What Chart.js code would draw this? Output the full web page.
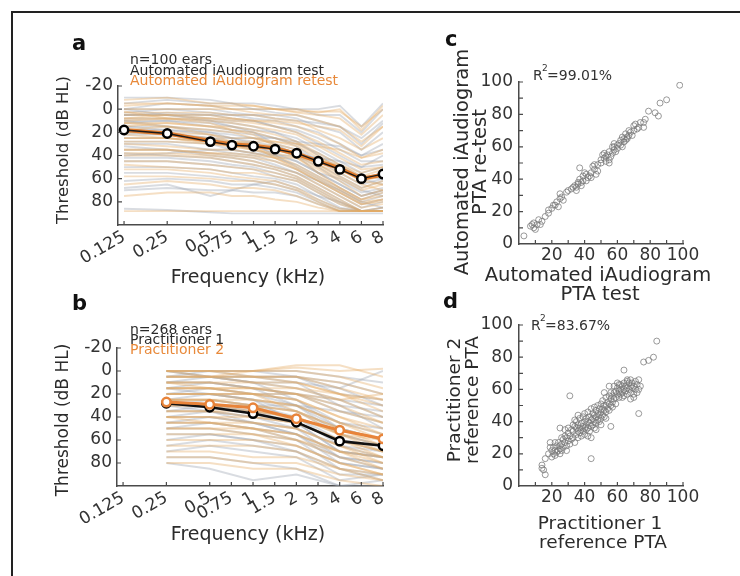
<!DOCTYPE html>
<html>
<head>
<meta charset="utf-8">
<script src="https://cdn.jsdelivr.net/npm/chart.js@4.4.0/dist/chart.umd.min.js"></script>
<style>
  body { margin: 0; background: #fff; width: 740px; height: 576px; overflow: hidden; position: relative; }
  canvas { position: absolute; left: 0; top: 0; }
  #frame { position: absolute; left: 11px; top: 11px; width: 800px; height: 640px;
           border-left: 2px solid #222; border-top: 2px solid #222; }
</style>
</head>
<body>
<div id="frame"></div>
<canvas id="chartA" width="740" height="576"></canvas>
<canvas id="chartB" width="740" height="576"></canvas>
<canvas id="chartC" width="740" height="576"></canvas>
<canvas id="chartD" width="740" height="576"></canvas>
<script>
// ---- data ----
var freqLabels = ['0.125', '0.25', '0.5', '0.75', '1', '1.5', '2', '3', '4', '6', '8'];
var freqPos = [0, 2, 4, 5, 6, 7, 8, 9, 10, 11, 12];   // audiogram spacing used on the x axis
var threshTicks = [-20, 0, 20, 40, 60, 80];

// panel a: mean thresholds (dB HL)
var aMeanTest = [18, 21, 28, 31, 32, 34.5, 38, 45, 52, 60, 56];
var aMeanRetest = [18, 21, 27.5, 30.5, 31.5, 34, 38.5, 45, 51, 60, 56.5];

// panel a: individual ears, test (grey)
var aTest = [
  [-10, -10, -8, -5, -5, -3, 0, 0, -3, 15, -5],
  [-5, -8, -5, -5, 0, 0, 0, 5, 5, 20, 0],
  [0, -5, -3, 0, 0, 3, 5, 10, 15, 25, 10],
  [0, 0, 0, 3, 5, 5, 8, 15, 20, 35, 20],
  [3, 0, 3, 5, 8, 10, 15, 20, 30, 40, 30],
  [5, 3, 5, 8, 10, 15, 20, 30, 40, 50, 40],
  [5, 5, 8, 10, 10, 15, 18, 25, 35, 45, 45],
  [8, 8, 10, 12, 15, 20, 25, 35, 45, 55, 50],
  [10, 10, 12, 15, 18, 20, 28, 40, 50, 60, 55],
  [12, 10, 15, 18, 20, 25, 30, 38, 48, 58, 60],
  [15, 15, 18, 20, 22, 25, 32, 45, 55, 65, 60],
  [15, 18, 20, 22, 25, 30, 35, 45, 50, 60, 65],
  [18, 18, 22, 25, 28, 32, 38, 48, 58, 68, 62],
  [20, 20, 25, 28, 30, 35, 40, 50, 62, 72, 68],
  [22, 22, 25, 30, 32, 38, 45, 55, 65, 75, 70],
  [25, 25, 28, 30, 35, 40, 45, 55, 60, 70, 75],
  [28, 28, 30, 35, 38, 42, 48, 58, 68, 78, 72],
  [30, 30, 35, 38, 40, 45, 52, 62, 72, 82, 78],
  [32, 35, 38, 40, 42, 48, 55, 65, 75, 85, 80],
  [35, 35, 40, 42, 45, 50, 55, 62, 70, 80, 85],
  [38, 40, 42, 45, 48, 52, 58, 68, 78, 88, 85],
  [42, 42, 45, 48, 50, 55, 60, 70, 80, 88, 88],
  [45, 45, 48, 50, 52, 58, 62, 72, 82, 88, 88],
  [50, 50, 52, 55, 58, 60, 65, 75, 85, 88, 88],
  [55, 55, 58, 60, 62, 65, 70, 78, 86, 88, 88],
  [62, 60, 62, 65, 65, 68, 72, 80, 88, 88, 88],
  [70, 68, 70, 70, 72, 72, 75, 82, 88, 88, 88],
  [86, 87, 89, 90, 90, 90, 90, 90, 90, 90, 90],
  [68, 65, 75, 70, 65, 62, 68, 75, 80, 88, 85],
  [10, 15, 20, 25, 30, 40, 50, 60, 70, 80, 75],
  [0, 5, 10, 15, 20, 30, 40, 55, 65, 75, 70],
  [20, 22, 25, 25, 25, 25, 28, 30, 32, 40, 35],
  [40, 38, 35, 35, 38, 40, 40, 42, 45, 50, 48],
  [5, 5, 5, 5, 5, 8, 10, 12, 15, 30, 12]
];
// panel a: individual ears, retest (orange)
var aRetest = [
  [-8, -10, -5, -5, -3, 0, 0, 3, 0, 18, -3],
  [-3, -5, -3, 0, 0, 0, 3, 5, 8, 22, 5],
  [0, 0, 0, 0, 3, 5, 5, 10, 15, 28, 15],
  [3, 3, 3, 5, 5, 8, 10, 18, 25, 35, 25],
  [5, 5, 5, 8, 10, 12, 15, 22, 30, 42, 35],
  [8, 5, 8, 10, 12, 15, 20, 28, 38, 48, 45],
  [10, 8, 10, 12, 15, 18, 22, 32, 42, 52, 50],
  [12, 12, 15, 15, 18, 22, 28, 38, 48, 58, 52],
  [15, 12, 15, 18, 20, 25, 30, 40, 52, 62, 58],
  [18, 15, 18, 20, 25, 28, 32, 42, 50, 62, 65],
  [18, 20, 22, 25, 25, 30, 35, 48, 58, 68, 62],
  [20, 22, 25, 28, 30, 32, 38, 48, 55, 65, 70],
  [22, 25, 28, 30, 30, 35, 40, 50, 60, 70, 65],
  [25, 25, 30, 32, 35, 38, 42, 52, 62, 75, 70],
  [28, 28, 30, 32, 35, 40, 48, 58, 68, 78, 75],
  [30, 32, 35, 35, 38, 42, 50, 60, 70, 80, 78],
  [35, 35, 38, 40, 42, 45, 52, 62, 72, 82, 80],
  [38, 38, 40, 42, 45, 50, 55, 65, 75, 85, 82],
  [40, 40, 42, 45, 48, 52, 58, 68, 78, 88, 85],
  [45, 45, 48, 50, 52, 55, 60, 70, 80, 88, 88],
  [48, 50, 52, 55, 55, 58, 62, 72, 82, 88, 88],
  [52, 52, 55, 58, 60, 62, 68, 78, 86, 88, 88],
  [58, 58, 60, 62, 62, 65, 70, 80, 88, 88, 88],
  [65, 62, 65, 68, 68, 70, 75, 82, 88, 88, 88],
  [88, 88, 88, 88, 88, 88, 88, 88, 88, 88, 88],
  [75, 72, 72, 75, 75, 78, 80, 85, 88, 88, 88],
  [12, 15, 22, 28, 32, 42, 52, 62, 72, 82, 78],
  [2, 8, 12, 18, 22, 32, 42, 55, 68, 78, 72],
  [25, 25, 28, 28, 28, 28, 30, 32, 35, 42, 38],
  [35, 35, 38, 38, 40, 42, 42, 45, 48, 55, 50],
  [8, 8, 8, 8, 10, 10, 12, 15, 18, 32, 15],
  [-5, -5, -3, -3, -3, 0, 2, 2, 2, 15, 0]
];

// panel b
var bFreqs = ['0.25', '0.5', '1', '2', '4', '8'];
var bMeanP1 = [28, 31.5, 37, 44.5, 61, 65];
var bMeanP2 = [27, 29, 32, 41.5, 51.5, 59];
var bP1 = [
  [0, 0, 0, 5, 10, 20], [0, 0, 0, 0, 5, 10], [0, 5, 5, 10, 15, 30], [5, 0, 5, 5, 20, 25],
  [5, 5, 10, 15, 25, 40], [10, 5, 10, 10, 30, 35], [10, 10, 15, 20, 35, 45], [15, 10, 15, 20, 30, 50],
  [15, 15, 20, 25, 45, 55], [20, 15, 20, 30, 45, 50], [20, 20, 25, 30, 50, 60], [25, 20, 25, 35, 55, 65],
  [25, 25, 30, 35, 50, 60], [30, 25, 30, 40, 60, 70], [30, 30, 35, 40, 65, 70], [35, 30, 35, 45, 60, 65],
  [35, 35, 40, 45, 70, 75], [40, 35, 40, 50, 65, 75], [40, 40, 45, 50, 75, 80], [45, 40, 45, 55, 70, 75],
  [45, 45, 50, 55, 80, 85], [50, 45, 50, 60, 75, 80], [50, 50, 55, 60, 85, 90], [55, 55, 60, 65, 80, 85],
  [60, 55, 60, 70, 90, 90], [65, 60, 65, 70, 85, 95], [70, 65, 70, 75, 95, 90], [75, 75, 80, 85, 100, 95],
  [80, 85, 95, 90, 100, 100], [10, 10, 15, 30, 55, 65], [20, 20, 25, 45, 70, 75], [5, 5, 10, 25, 50, 60],
  [30, 35, 45, 55, 75, 85], [15, 20, 20, 20, 25, 30], [25, 30, 30, 30, 35, 40], [0, 5, 5, 5, 15, 0]
];
var bP2 = [
  [0, 0, 0, 0, 5, 15], [0, 0, 5, 5, 10, 20], [0, 5, 5, 5, 15, 25], [5, 5, 5, 10, 20, 30],
  [5, 5, 10, 10, 20, 35], [10, 10, 10, 15, 25, 40], [10, 10, 15, 20, 30, 45], [15, 15, 15, 20, 35, 45],
  [15, 15, 20, 25, 40, 50], [20, 20, 20, 25, 40, 55], [20, 20, 25, 30, 45, 55], [25, 25, 25, 30, 45, 60],
  [25, 25, 30, 35, 50, 60], [30, 30, 30, 35, 50, 65], [30, 30, 35, 40, 55, 65], [35, 35, 35, 40, 55, 70],
  [35, 35, 40, 45, 60, 70], [40, 40, 40, 45, 60, 75], [40, 40, 45, 50, 65, 75], [45, 45, 45, 50, 65, 80],
  [45, 45, 50, 55, 70, 80], [50, 50, 50, 55, 70, 85], [55, 55, 55, 60, 75, 85], [60, 60, 60, 65, 80, 90],
  [65, 65, 65, 70, 85, 90], [70, 70, 75, 75, 85, 95], [75, 75, 80, 80, 90, 95], [80, 80, 85, 85, 95, 100],
  [0, 0, 0, -5, -5, 5], [5, 5, 0, -3, 0, -2], [20, 20, 20, 20, 25, 20], [10, 15, 20, 35, 55, 60],
  [25, 25, 30, 45, 60, 70], [40, 45, 50, 60, 70, 75], [50, 50, 55, 65, 80, 90], [15, 15, 15, 15, 20, 25]
];

// panel c: PTA test vs retest
var cTest = [3, 7, 9, 11, 12, 9, 13, 10, 8, 14, 18, 18, 22, 23, 25, 25, 26, 27, 24, 20,
  30, 32, 35, 36, 37, 37, 38, 39, 40, 41, 34, 36, 38, 39, 35, 42, 44, 45, 46, 48,
  48, 47, 43, 50, 51, 52, 53, 55, 55, 55, 52, 54, 56, 53, 50, 57, 58, 58, 60, 62,
  63, 64, 65, 66, 67, 60, 61, 62, 64, 66, 63, 68, 70, 71, 72, 70, 69, 73, 74, 76,
  77, 76, 79, 83, 85, 86, 90, 98, 57, 59, 44, 41, 33, 29, 16, 21, 46, 58, 65, 67];
var cRetest = [5, 11, 13, 12, 15, 10, 12, 9, 12, 14, 19, 21, 24, 26, 28, 31, 29, 27, 23, 22,
  33, 34, 35, 37, 47, 40, 38, 42, 44, 39, 36, 38, 36, 39, 33, 41, 44, 48, 46, 49,
  45, 43, 42, 52, 55, 56, 54, 52, 57, 50, 53, 55, 54, 51, 50, 60, 62, 58, 61, 64,
  66, 63, 68, 65, 67, 59, 62, 61, 65, 66, 60, 69, 73, 74, 71, 70, 67, 72, 75, 75,
  77, 72, 82, 81, 79, 87, 89, 98, 56, 57, 41, 43, 35, 32, 17, 24, 49, 60, 64, 70];

// panel d: practitioner 1 vs practitioner 2
var dP1 = [31, 44, 56, 73, 84, 25, 82, 79, 76, 64, 16, 15, 14, 16, 14, 19, 22, 21, 25,
  18, 20, 20, 21, 22, 23, 23, 24, 24, 25, 25, 19, 22,
  26, 26, 27, 27, 28, 28, 29, 29, 30, 30, 31, 31, 32, 32, 30, 28, 26, 29,
  33, 33, 34, 34, 35, 35, 35, 36, 36, 36, 37, 37, 37, 38, 38, 38, 39, 39, 39, 40, 40, 40, 40, 34, 33, 36,
  41, 41, 41, 42, 42, 42, 43, 43, 43, 44, 44, 44, 45, 45, 45, 46, 46, 46, 46, 47, 47, 47, 48, 48, 48, 44, 42, 47,
  49, 49, 49, 50, 50, 50, 51, 51, 51, 52, 52, 52, 53, 53, 53, 54, 54, 55, 55, 55, 56, 56, 56, 50, 53, 55, 52,
  57, 57, 58, 58, 58, 59, 59, 60, 60, 61, 61, 61, 62, 62, 63, 63, 64, 64, 64, 65, 65, 66, 66, 66, 60, 62, 63, 57, 59,
  67, 67, 68, 68, 68, 69, 69, 70, 70, 71, 71, 72, 72, 73, 74, 70, 68, 73, 66];
var dP2 = [56, 17, 37, 45, 90, 36, 80, 78, 77, 72, 7, 10, 13, 17, 11, 27, 27, 20, 20,
  20, 18, 22, 24, 19, 21, 25, 22, 27, 23, 25, 24, 22,
  22, 26, 24, 29, 27, 31, 25, 30, 28, 33, 26, 31, 29, 35, 36, 35, 30, 22,
  30, 34, 27, 37, 32, 36, 40, 30, 34, 38, 33, 36, 42, 31, 35, 39, 34, 37, 43, 32, 36, 40, 45, 41, 38, 44,
  35, 38, 42, 36, 40, 46, 34, 39, 43, 37, 41, 48, 38, 42, 45, 36, 40, 44, 49, 39, 43, 47, 41, 45, 50, 30, 31, 35,
  40, 44, 48, 42, 46, 51, 44, 48, 53, 43, 47, 50, 46, 50, 55, 48, 52, 47, 51, 56, 50, 54, 58, 38, 42, 62, 58,
  52, 56, 54, 58, 62, 55, 59, 57, 61, 55, 59, 63, 57, 60, 58, 62, 56, 60, 64, 59, 62, 57, 61, 65, 64, 63, 55, 49, 51,
  60, 64, 58, 62, 66, 61, 64, 57, 62, 65, 60, 63, 58, 60, 62, 55, 54, 66, 66];
var pctTicks = [0, 20, 40, 60, 80, 100];
var pctMinor = [10, 20, 30, 40, 50, 60, 70, 80, 90, 100];

// ---- style ----
var FONT = "'DejaVu Sans', sans-serif";
var ORANGE = '#e8893a';
var TXT = '#2b2b2b';
var AXIS = '#4a4a4a';
var W = 740, H = 576, Y_W = 70, X_H = 70;

Chart.defaults.font.family = FONT;
Chart.defaults.color = '#333';
Chart.defaults.animation = false;

function fitScale(size) {
  return function (s) {
    if (s.isHorizontal()) s.height = size; else s.width = size;
    s.paddingLeft = 0; s.paddingRight = 0; s.paddingTop = 0; s.paddingBottom = 0;
  };
}
function padFor(l, t, r, b) {
  return { left: l - Y_W, top: t, right: W - r, bottom: H - b - X_H };
}
function xy(xs, ys) {
  return xs.map(function (v, i) { return { x: v, y: ys[i] }; });
}
function posOf(f) { return freqPos[freqLabels.indexOf(f)]; }

// inward tick marks, like the original axes
var innerTicks = {
  id: 'innerTicks',
  afterDatasetsDraw: function (chart, args, opts) {
    var ctx = chart.ctx, ca = chart.chartArea;
    ctx.save();
    ctx.strokeStyle = AXIS;
    ctx.lineWidth = 1.2;
    ctx.beginPath();
    (opts.x || []).forEach(function (v) {
      var px = chart.scales.x.getPixelForValue(v);
      ctx.moveTo(px, ca.bottom); ctx.lineTo(px, ca.bottom - 4);
    });
    (opts.y || []).forEach(function (v) {
      var py = chart.scales.y.getPixelForValue(v);
      ctx.moveTo(ca.left, py); ctx.lineTo(ca.left + 4, py);
    });
    ctx.stroke();
    ctx.restore();
  }
};

var texts = {
  id: 'texts',
  afterDraw: function (chart, args, opts) {
    var ctx = chart.ctx;
    (opts.items || []).forEach(function (t) {
      ctx.save();
      ctx.font = (t.bold ? 'bold ' : '') + t.size + 'px ' + FONT;
      ctx.fillStyle = t.color || TXT;
      ctx.textAlign = t.align || 'left';
      ctx.textBaseline = t.base || 'alphabetic';
      ctx.translate(t.x, t.y);
      if (t.rot) ctx.rotate(t.rot * Math.PI / 180);
      ctx.fillText(t.text, 0, 0);
      ctx.restore();
    });
  }
};

function freqAxis() {
  return {
    type: 'linear', min: -0.28, max: 12,
    afterFit: fitScale(X_H),
    afterBuildTicks: function (s) { s.ticks = freqPos.map(function (v) { return { value: v }; }); },
    ticks: {
      autoSkip: false, minRotation: 30, maxRotation: 30, padding: 2, color: '#333',
      font: { size: 17 },
      callback: function (v) { return freqLabels[freqPos.indexOf(v)]; }
    },
    grid: { display: false, drawTicks: false },
    border: { color: AXIS, width: 1.5 }
  };
}
function threshAxis() {
  return {
    type: 'linear', reverse: true, min: -20, max: 100,
    afterFit: fitScale(Y_W),
    afterBuildTicks: function (s) { s.ticks = threshTicks.map(function (v) { return { value: v }; }); },
    ticks: { padding: 5, color: '#333', font: { size: 17 } },
    grid: { display: false, drawTicks: false },
    border: { color: AXIS, width: 1.5 }
  };
}
function pctAxis(horizontal) {
  return {
    type: 'linear', min: 0, max: 100,
    afterFit: fitScale(horizontal ? X_H : Y_W),
    afterBuildTicks: function (s) { s.ticks = pctTicks.map(function (v) { return { value: v }; }); },
    ticks: {
      padding: horizontal ? 1 : 6, color: '#333', font: { size: 17 }, autoSkip: false, maxRotation: 0,
      callback: function (v) { return (horizontal && v === 0) ? '' : String(v); }
    },
    grid: { display: false, drawTicks: false },
    border: { color: AXIS, width: 1.5 }
  };
}

function traceSets(rows, xs, color, order) {
  return rows.map(function (row) {
    return {
      type: 'line', data: xy(xs, row), borderColor: color, borderWidth: 1.9,
      pointRadius: 0, tension: 0, order: order
    };
  });
}

function makeChart(id, pad, datasets, scales, tickMarks, items) {
  return new Chart(document.getElementById(id), {
    type: 'line',
    data: { datasets: datasets },
    options: {
      responsive: false, devicePixelRatio: 1, animation: false,
      layout: { padding: pad },
      scales: scales,
      plugins: {
        legend: { display: false }, tooltip: { enabled: false },
        innerTicks: tickMarks, texts: { items: items }
      }
    },
    plugins: [innerTicks, texts]
  });
}

var GREY_TRACE = 'rgba(155,163,175,0.38)';
var ORANGE_TRACE = 'rgba(228,172,100,0.38)';

// ---- panel a ----
var aX = freqLabels.map(posOf);
var dsA = []
  .concat(traceSets(aTest, aX, GREY_TRACE, 4))
  .concat(traceSets(aRetest, aX, ORANGE_TRACE, 3))
  .concat([
    { type: 'line', data: xy(aX, aMeanRetest), borderColor: '#df7a2c', borderWidth: 4, pointRadius: 0, order: 1 },
    { type: 'line', data: xy(aX, aMeanTest), borderColor: '#1a1a1a', borderWidth: 1.3,
      pointRadius: 4.2, pointBackgroundColor: '#fff', pointBorderColor: '#000', pointBorderWidth: 2.5, order: 0 }
  ]);
makeChart('chartA', padFor(118, 86, 383, 225), dsA,
  { x: freqAxis(), y: threshAxis() },
  { x: freqPos, y: threshTicks },
  [
    { text: 'a', x: 72, y: 50, size: 21, bold: true, color: '#111' },
    { text: 'n=100 ears', x: 130, y: 64, size: 14 },
    { text: 'Automated iAudiogram test', x: 130, y: 75, size: 14 },
    { text: 'Automated iAudiogram retest', x: 130, y: 85, size: 14, color: ORANGE },
    { text: 'Threshold (dB HL)', x: 64, y: 150, size: 16.5, rot: -90, align: 'center', base: 'middle' },
    { text: 'Frequency (kHz)', x: 248, y: 278, size: 19, align: 'center', base: 'middle' }
  ]);

// ---- panel b ----
var bX = bFreqs.map(posOf);
var dsB = []
  .concat(traceSets(bP1, bX, GREY_TRACE, 4))
  .concat(traceSets(bP2, bX, ORANGE_TRACE, 3))
  .concat([
    { type: 'line', data: xy(bX, bMeanP1), borderColor: '#111', borderWidth: 2.6,
      pointRadius: 4.2, pointBackgroundColor: '#fff', pointBorderColor: '#000', pointBorderWidth: 2.5, order: 1 },
    { type: 'line', data: xy(bX, bMeanP2), borderColor: '#e8843a', borderWidth: 3,
      pointRadius: 4.2, pointBackgroundColor: '#fff', pointBorderColor: '#e8843a', pointBorderWidth: 2.5, order: 0 }
  ]);
makeChart('chartB', padFor(117, 348, 383, 486), dsB,
  { x: freqAxis(), y: threshAxis() },
  { x: freqPos, y: threshTicks },
  [
    { text: 'b', x: 72, y: 310, size: 21, bold: true, color: '#111' },
    { text: 'n=268 ears', x: 130, y: 334, size: 14 },
    { text: 'Practitioner 1', x: 130, y: 344, size: 14 },
    { text: 'Practitioner 2', x: 130, y: 354, size: 14, color: ORANGE },
    { text: 'Threshold (dB HL)', x: 64, y: 420, size: 17, rot: -90, align: 'center', base: 'middle' },
    { text: 'Frequency (kHz)', x: 248, y: 535, size: 19, align: 'center', base: 'middle' }
  ]);

// ---- panel c ----
var scatterStyle = {
  type: 'scatter', pointRadius: 3, pointBorderWidth: 1,
  pointBorderColor: 'rgba(120,120,120,0.75)', pointBackgroundColor: 'rgba(0,0,0,0)', showLine: false
};
makeChart('chartC', padFor(519, 82, 683, 244),
  [Object.assign({ data: xy(cTest, cRetest) }, scatterStyle)],
  { x: pctAxis(true), y: pctAxis(false) },
  { x: pctMinor, y: pctMinor },
  [
    { text: 'c', x: 445, y: 46, size: 21, bold: true, color: '#111' },
    { text: 'Automated iAudiogram', x: 463, y: 162, size: 19.5, rot: -90, align: 'center', base: 'middle' },
    { text: 'PTA re-test', x: 481, y: 162, size: 19.5, rot: -90, align: 'center', base: 'middle' },
    { text: 'Automated iAudiogram', x: 598, y: 281, size: 19.5, align: 'center' },
    { text: 'PTA test', x: 600, y: 300, size: 19.5, align: 'center' },
    { text: 'R', x: 533, y: 80, size: 14, color: '#333' },
    { text: '2', x: 542, y: 71, size: 9, color: '#333' },
    { text: '=99.01%', x: 547, y: 80, size: 14, color: '#333' }
  ]);

// ---- panel d ----
makeChart('chartD', padFor(519, 325, 683, 486),
  [Object.assign({ data: xy(dP1, dP2) }, scatterStyle)],
  { x: pctAxis(true), y: pctAxis(false) },
  { x: pctMinor, y: pctMinor },
  [
    { text: 'd', x: 443, y: 308, size: 21, bold: true, color: '#111' },
    { text: 'Practitioner 2', x: 455, y: 400, size: 18.5, rot: -90, align: 'center', base: 'middle' },
    { text: 'reference PTA', x: 473, y: 400, size: 18.5, rot: -90, align: 'center', base: 'middle' },
    { text: 'Practitioner 1', x: 600, y: 529, size: 18.5, align: 'center' },
    { text: 'reference PTA', x: 603, y: 548, size: 18.5, align: 'center' },
    { text: 'R', x: 531, y: 330, size: 14, color: '#333' },
    { text: '2', x: 540, y: 321, size: 9, color: '#333' },
    { text: '=83.67%', x: 545, y: 330, size: 14, color: '#333' }
  ]);
</script>
</body>
</html>
